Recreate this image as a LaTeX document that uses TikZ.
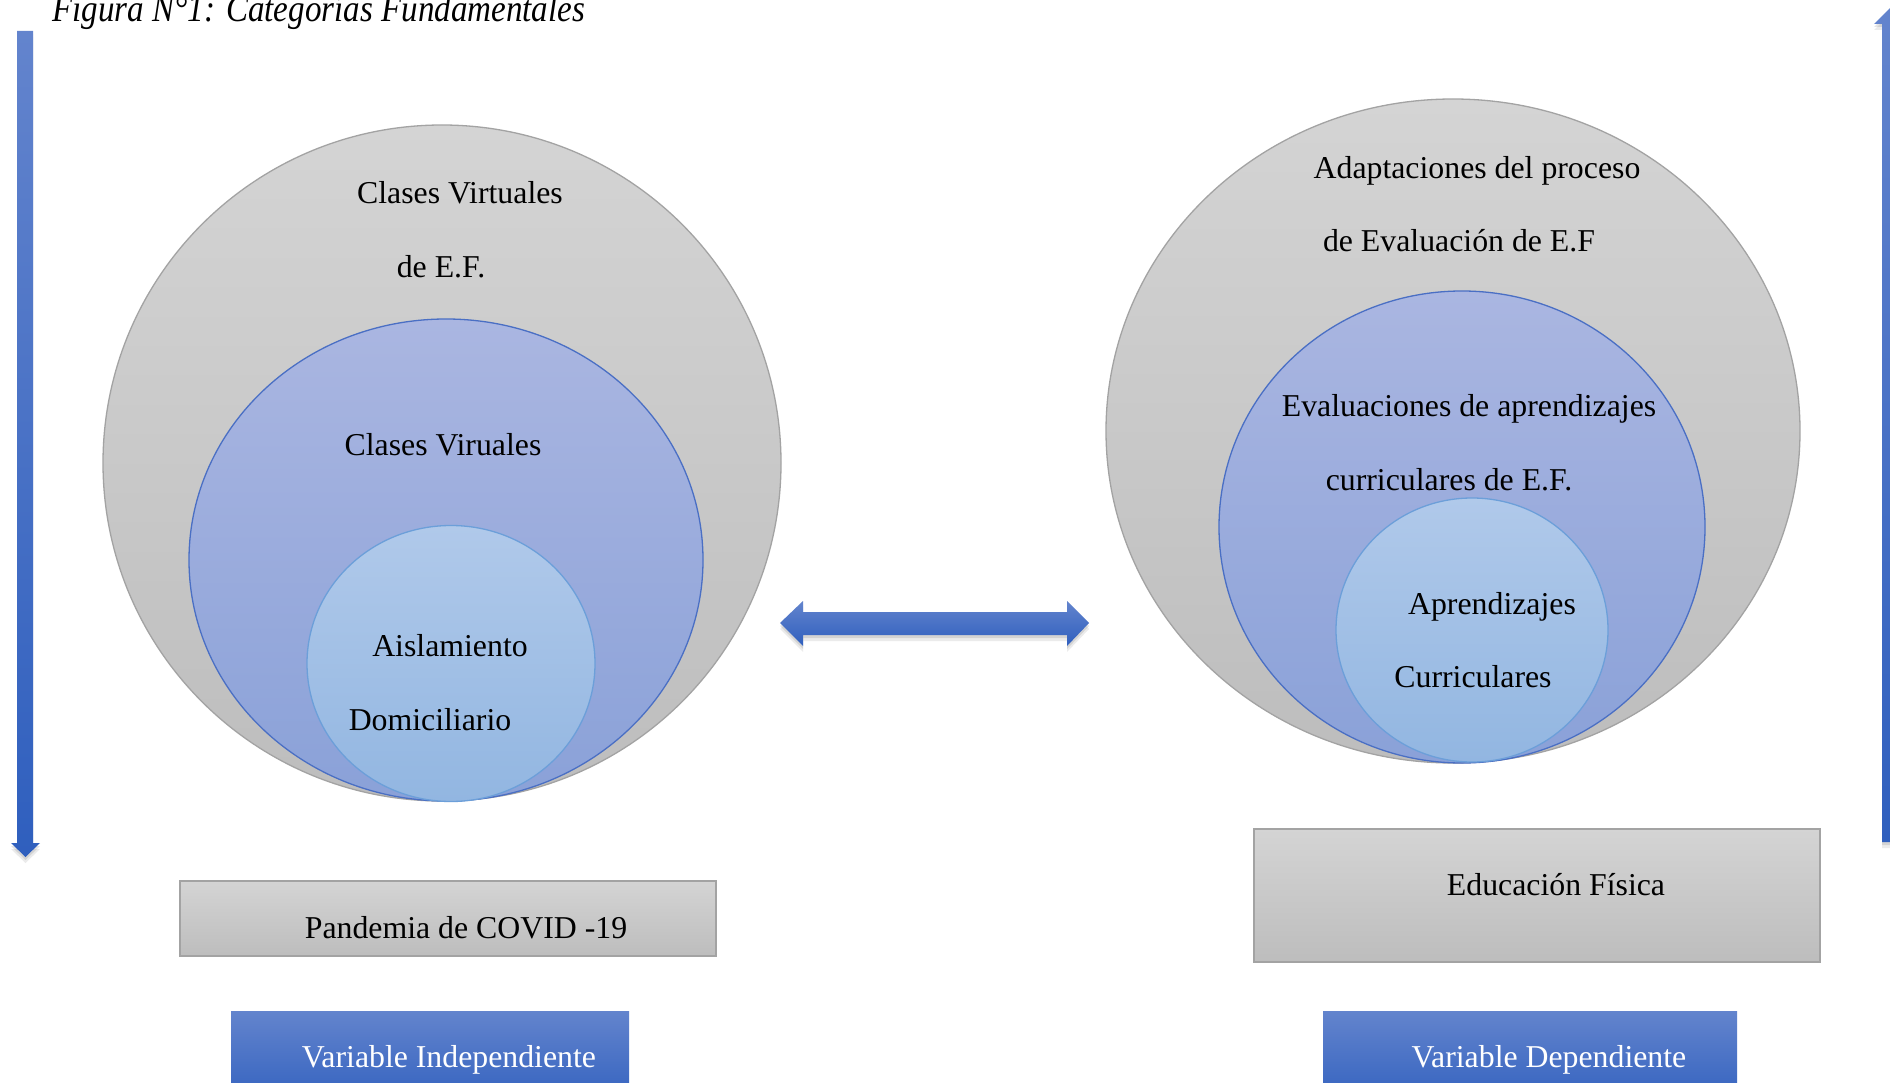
\documentclass[tikz,border=0pt]{standalone}
\usepackage{fontspec}
\setmainfont{Liberation Serif}
\usetikzlibrary{shapes.geometric,shadows}
\definecolor{grayTop}{HTML}{D4D4D4}
\definecolor{grayBot}{HTML}{BDBDBD}
\definecolor{grayLine}{HTML}{A3A3A3}
\definecolor{midTop}{HTML}{AAB6E1}
\definecolor{midBot}{HTML}{8AA1D8}
\definecolor{midLine}{HTML}{4A6FC4}
\definecolor{inTop}{HTML}{B0C9EA}
\definecolor{inBot}{HTML}{92B6E1}
\definecolor{inLine}{HTML}{6C9FD9}
\definecolor{blueTop}{HTML}{6384CD}
\definecolor{blueBot}{HTML}{2F5FBE}
\begin{document}
\begin{tikzpicture}[x=1pt,y=-1pt,
  lbl/.style={anchor=base, inner sep=0pt, font=\fontsize{31.8}{38}\selectfont},
  wlbl/.style={lbl, text=white},
  grayc/.style={ellipse, inner sep=0pt, draw=grayLine, line width=1.3pt, top color=grayTop, bottom color=grayBot},
  midc/.style={ellipse, inner sep=0pt, draw=midLine, line width=1.3pt, top color=midTop, bottom color=midBot},
  inc/.style={ellipse, inner sep=0pt, draw=inLine, line width=1.3pt, top color=inTop, bottom color=inBot},
  graybox/.style={rectangle, inner sep=0pt, draw=grayLine, line width=1.3pt, top color=grayTop, bottom color=grayBot},
  softshadow/.style={preaction={fill=black, opacity=0.08, transform canvas={yshift=-6pt}},
                     preaction={fill=black, opacity=0.10, transform canvas={yshift=-3pt}}},
  bluebox/.style={rectangle, inner sep=0pt, top color=blueTop, bottom color=blueBot, softshadow},
  bluearrow/.style={top color=blueTop, bottom color=blueBot, softshadow}
]
\useasboundingbox (0,0) rectangle (1890,1083);
\clip (0,0) rectangle (1890,1083);
\fill[white] (0,0) rectangle (1890,1083);

% title
\node[anchor=base west, inner sep=0pt, font=\itshape\fontsize{38}{40}\selectfont, xscale=0.87] (title) at (52,22) {Figura N°1: Categorías Fundamentales};

% left vertical arrow (down)
\path[bluearrow] (17,31) -- (33,31) -- (33,843) -- (40,843) -- (25.5,857) -- (11,843) -- (17,843) -- cycle;
% right vertical arrow (up)
\path[bluearrow] (1882,842) -- (1898,842) -- (1898,24) -- (1906,24) -- (1890,8) -- (1874,24) -- (1882,24) -- cycle;

% left circles
\node[grayc, minimum width=678pt, minimum height=676pt] (lg) at (442,463) {};
\node[midc, minimum width=514pt, minimum height=482pt] (lm) at (446,560) {};
\node[inc, minimum width=288pt, minimum height=276pt] (li) at (451,663.5) {};

% right circles
\node[grayc, minimum width=694pt, minimum height=664pt] (rg) at (1453,431) {};
\node[midc, minimum width=486pt, minimum height=472pt] (rm) at (1462,527) {};
\node[inc, minimum width=272pt, minimum height=264pt] (ri) at (1472,630) {};

% double arrow
\path[bluearrow] (780,623) -- (803,601) -- (803,612) -- (1067,612) -- (1067,601) -- (1089,623) -- (1067,646) -- (1067,635) -- (803,635) -- (803,646) -- cycle;

% left texts
\node[lbl] (t1) at (460,204) {Clases Virtuales};
\node[lbl] (t2) at (441,278) {de E.F.};
\node[lbl] (t3) at (443,455) {Clases Viruales};
\node[lbl] (t4) at (450,656) {Aislamiento};
\node[lbl] (t5) at (430,730) {Domiciliario};

% right texts
\node[lbl] (r1) at (1477,179) {Adaptaciones del proceso};
\node[lbl] (r2) at (1459,252) {de Evaluación de E.F};
\node[lbl] (r3) at (1469,416) {Evaluaciones de aprendizajes};
\node[lbl] (r4) at (1449,490) {curriculares de E.F.};
\node[lbl] (r5) at (1492,614) {Aprendizajes};
\node[lbl] (r6) at (1473,687) {Curriculares};

% gray boxes
\node[graybox, minimum width=536pt, minimum height=75pt] (pbox) at (448,918.5) {};
\node[lbl] (ptxt) at (466,938) {Pandemia de COVID -19};
\node[graybox, minimum width=566pt, minimum height=133pt] (ebox) at (1537,895.5) {};
\node[lbl] (etxt) at (1556,895) {Educación Física};

% blue boxes
\node[bluebox, minimum width=398pt, minimum height=100pt] (vibox) at (430,1061) {};
\node[wlbl] (vitxt) at (449,1067) {Variable Independiente};
\node[bluebox, minimum width=414pt, minimum height=100pt] (vdbox) at (1530,1061) {};
\node[wlbl] (vdtxt) at (1549,1067) {Variable Dependiente};
\end{tikzpicture}
\end{document}
